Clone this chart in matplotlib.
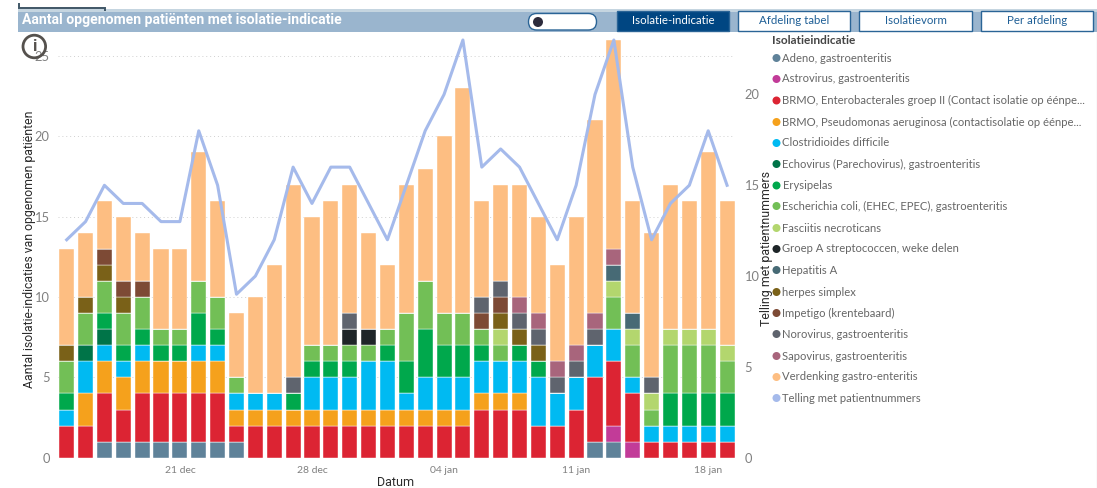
import matplotlib
matplotlib.use("Agg")
import matplotlib.pyplot as plt
from matplotlib.patches import Rectangle, FancyBboxPatch, Circle
import numpy as np

dates = ["15 dec", "16 dec", "17 dec", "18 dec", "19 dec", "20 dec", "21 dec", "22 dec", "23 dec",
         "24 dec", "25 dec", "26 dec", "27 dec", "28 dec", "29 dec", "30 dec", "31 dec", "01 jan",
         "02 jan", "03 jan", "04 jan", "05 jan", "06 jan", "07 jan", "08 jan", "09 jan", "10 jan",
         "11 jan", "12 jan", "13 jan", "14 jan", "15 jan", "16 jan", "17 jan", "18 jan", "19 jan"]
tick_dates = ["21 dec", "28 dec", "04 jan", "11 jan", "18 jan"]

# values per day, bottom of the stack first
adeno = [0, 0, 1, 1, 1, 1, 1, 1, 1, 1, 0, 0, 0, 0, 0, 0, 0, 0, 0, 0, 0, 0, 0, 0, 0, 0, 0, 0, 1, 1, 0, 0, 0, 0, 0, 0]
astro = [0, 0, 0, 0, 0, 0, 0, 0, 0, 0, 0, 0, 0, 0, 0, 0, 0, 0, 0, 0, 0, 0, 0, 0, 0, 0, 0, 0, 0, 1, 1, 0, 0, 0, 0, 0]
brmo_e = [2, 2, 3, 2, 3, 3, 3, 3, 3, 1, 2, 2, 2, 2, 2, 2, 2, 2, 2, 2, 2, 2, 3, 3, 3, 2, 2, 3, 4, 4, 3, 1, 1, 1, 1, 1]
brmo_p = [0, 2, 2, 2, 2, 2, 2, 2, 2, 1, 1, 1, 1, 1, 1, 1, 1, 1, 1, 1, 1, 1, 1, 1, 1, 0, 0, 0, 0, 0, 0, 0, 0, 0, 0, 0]
clostri = [1, 2, 1, 1, 1, 0, 0, 1, 1, 1, 1, 1, 0, 2, 2, 2, 3, 3, 1, 2, 2, 2, 2, 2, 2, 3, 2, 2, 2, 2, 1, 1, 1, 1, 1, 1]
echo = [0, 1, 1, 0, 0, 0, 0, 0, 0, 0, 0, 0, 0, 0, 0, 0, 0, 0, 0, 0, 0, 0, 0, 0, 0, 0, 0, 0, 0, 0, 0, 0, 0, 0, 0, 0]
erys = [1, 0, 1, 1, 1, 1, 1, 2, 1, 0, 0, 0, 1, 1, 1, 1, 0, 1, 2, 3, 2, 2, 1, 0, 1, 1, 0, 0, 0, 0, 0, 0, 2, 2, 2, 2]
ecoli = [2, 2, 2, 2, 2, 1, 1, 2, 2, 1, 0, 0, 0, 1, 1, 1, 1, 1, 3, 3, 2, 2, 1, 1, 0, 0, 0, 0, 0, 2, 2, 1, 3, 3, 3, 2]
fasciitis = [0, 0, 0, 0, 0, 0, 0, 0, 0, 0, 0, 0, 0, 0, 0, 0, 0, 0, 0, 0, 0, 0, 0, 1, 0, 0, 0, 0, 0, 1, 1, 1, 1, 1, 1, 1]
groep_a = [0, 0, 0, 0, 0, 0, 0, 0, 0, 0, 0, 0, 0, 0, 0, 1, 1, 0, 0, 0, 0, 0, 0, 0, 0, 0, 0, 0, 0, 0, 0, 0, 0, 0, 0, 0]
hepatitis = [0, 0, 0, 0, 0, 0, 0, 0, 0, 0, 0, 0, 0, 0, 0, 0, 0, 0, 0, 0, 0, 0, 0, 0, 0, 0, 0, 0, 0, 1, 1, 0, 0, 0, 0, 0]
herpes = [1, 1, 1, 1, 0, 0, 0, 0, 0, 0, 0, 0, 0, 0, 0, 0, 0, 0, 0, 0, 0, 0, 0, 1, 1, 1, 0, 0, 0, 0, 0, 0, 0, 0, 0, 0]
impetigo = [0, 0, 1, 1, 1, 0, 0, 0, 0, 0, 0, 0, 0, 0, 0, 0, 0, 0, 0, 0, 0, 0, 1, 1, 0, 0, 0, 0, 0, 0, 0, 0, 0, 0, 0, 0]
noro = [0, 0, 0, 0, 0, 0, 0, 0, 0, 0, 0, 0, 1, 0, 0, 1, 0, 0, 0, 0, 0, 0, 1, 1, 1, 1, 1, 1, 1, 0, 0, 1, 0, 0, 0, 0]
sapo = [0, 0, 0, 0, 0, 0, 0, 0, 0, 0, 0, 0, 0, 0, 0, 0, 0, 0, 0, 0, 0, 0, 0, 0, 1, 1, 1, 1, 1, 1, 0, 0, 0, 0, 0, 0]
verdenking = [6, 4, 3, 4, 3, 5, 5, 8, 6, 4, 6, 8, 12, 8, 9, 8, 6, 4, 8, 7, 11, 14, 6, 6, 7, 6, 6, 8, 12, 13, 7, 9, 9, 8, 11, 9]
telling = [12, 13, 15, 14, 14, 13, 13, 18, 15, 9, 10, 12, 16, 14, 16, 16, 14, 12, 15, 18, 20, 23, 16, 17, 16, 14, 12, 15, 20, 23, 16, 12, 14, 15, 18, 15]

series = [adeno, astro, brmo_e, brmo_p, clostri, echo, erys, ecoli, fasciitis,
          groep_a, hepatitis, herpes, impetigo, noro, sapo, verdenking]
names = ["Adeno, gastroenteritis", "Astrovirus, gastroenteritis",
         "BRMO, Enterobacterales groep II (Contact isolatie op éénpe...",
         "BRMO, Pseudomonas aeruginosa (contactisolatie op éénpe...",
         "Clostridioides difficile", "Echovirus (Parechovirus), gastroenteritis", "Erysipelas",
         "Escherichia coli, (EHEC, EPEC), gastroenteritis", "Fasciitis necroticans",
         "Groep A streptococcen, weke delen", "Hepatitis A", "herpes simplex",
         "Impetigo (krentebaard)", "Norovirus, gastroenteritis", "Sapovirus, gastroenteritis",
         "Verdenking gastro-enteritis", "Telling met patientnummers"]
colors = ["#5F8299", "#C23B98", "#DC2433", "#F5A11C", "#00BAF2", "#007448", "#00A84C", "#72BF56",
          "#B3D66E", "#1E2528", "#476A75", "#7A6118", "#7D4A35", "#5F646E", "#A8657C", "#FDBE82", "#A5BAEB"]

W, H = 1097, 488
plt.rcParams["font.family"] = ["Lato", "DejaVu Sans"]
fig = plt.figure(figsize=(W / 100, H / 100), dpi=100)

# plot area in pixels
left, right, top, bottom = 58, 735, 40, 457.7
ax = fig.add_axes([left / W, 1 - bottom / H, (right - left) / W, (bottom - top) / H])
x = np.arange(len(dates))
base = np.zeros(len(dates))
for vals, col in zip(series, colors):
    ax.bar(x, vals, width=0.8, bottom=base, color=col, edgecolor="#ffffff", linewidth=0.3, zorder=2)
    base = base + np.array(vals)
ax.set_xlim(-0.46, 35.42)
ax.set_ylim(0, 26)
ax.set_yticks([0, 5, 10, 15, 20, 25])
ax.set_xticks([dates.index(d) for d in tick_dates])
ax.set_xticklabels(tick_dates)
ax.grid(axis="y", color="#d0d0d0", linestyle=(0, (1, 3)), linewidth=0.7, zorder=0)
ax.tick_params(axis="both", length=0, labelsize=9.3, labelcolor="#808080")
ax.tick_params(axis="x", pad=6, labelsize=7.5)
ax.tick_params(axis="y", pad=6)
for s in ax.spines.values():
    s.set_visible(False)
ax.set_ylabel("Aantal isolatie-indicaties van opgenomen patiënten", fontsize=8.8, color="#2b2b2b", family="Roboto", va="center")
ax.yaxis.set_label_coords((29.5 - left) / (right - left), 0.5)
ax.set_xlabel("Datum", fontsize=9, color="#2b2b2b", family="Roboto", va="center")
ax.xaxis.set_label_coords((396 - left) / (right - left), (bottom - 482.5) / (bottom - top))

ax2 = ax.twinx()
ax2.plot(x, telling, color=colors[-1], linewidth=2.2, zorder=5, clip_on=False)
ax2.set_ylim(0, 23)
ax2.set_yticks([0, 5, 10, 15, 20])
ax2.tick_params(axis="y", length=0, labelsize=9.3, labelcolor="#808080", pad=7)
for s in ax2.spines.values():
    s.set_visible(False)
ax2.set_ylabel("Telling met patientnummers", fontsize=8.9, color="#2b2b2b", family="Roboto", va="center")
ax2.yaxis.set_label_coords((766 - left) / (right - left), 0.5)

# header, buttons and legend go on a pixel canvas over the chart
ui = fig.add_axes([0, 0, 1, 1], facecolor="none")
ui.set_xlim(0, W)
ui.set_ylim(H, 0)
ui.axis("off")

ui.plot([18.5, 18.5, 104.5, 104.5], [4, 8, 8, 10], color="#3f5666", lw=1.4, solid_joinstyle="miter")
ui.add_patch(Rectangle((18, 8.5), W - 18, 3.5, fc="#c5d5e0", ec="none"))
ui.add_patch(Rectangle((18, 12), W - 18, 20, fc="#9AB5CE", ec="none"))
ui.text(22.5, 19.7, "Aantal opgenomen patiënten met isolatie-indicatie", color="#ffffff", fontsize=10.1,
        fontweight="bold", family="Roboto", va="center", ha="left")

ui.add_patch(FancyBboxPatch((528.5, 13.5), 68, 16.5, boxstyle="round,pad=0,rounding_size=8.2",
                            fc="#ffffff", ec="#2a6496", lw=1))
ui.add_patch(Circle((538, 22), 5, fc="#2c2b3c", ec="none"))

buttons = [("Isolatie-indicatie", 617, 729, True), ("Afdeling tabel", 738, 850, False),
           ("Isolatievorm", 859, 972, False), ("Per afdeling", 981, 1093, False)]
for label, x0, x1, active in buttons:
    ui.add_patch(Rectangle((x0, 11), x1 - x0, 20, fc="#004682" if active else "#ffffff", ec="#2a6496", lw=1))
    ui.text((x0 + x1) / 2, 21, label, fontsize=8.3, ha="center", va="center",
            color="#ffffff" if active else "#1f5f96")

# info icon
ui.add_patch(Circle((34.3, 46.5), 11.3, fc="none", ec="#55514d", lw=2))
ui.text(34.3, 46.5, "i", fontsize=12, fontweight="bold", color="#55514d", ha="center", va="center", family="Roboto")

# legend
ui.text(772, 40, "Isolatieindicatie", fontsize=8.6, fontweight="bold", color="#444444", va="center")
legend_y = [58, 79, 100.5, 122, 143, 164, 185.5, 206, 228, 249, 270, 292, 313, 334, 356, 377, 398]
for name, col, y in zip(names, colors, legend_y):
    ui.add_patch(Circle((776.5, y), 4, fc=col, ec="none"))
    ui.text(782.5, y, name, fontsize=8.15, color="#666666", va="center", ha="left")

ui.plot([1096.5, 1096.5], [32, 488], color="#e4e4e4", lw=1)

fig.savefig("out.png", dpi=100)
